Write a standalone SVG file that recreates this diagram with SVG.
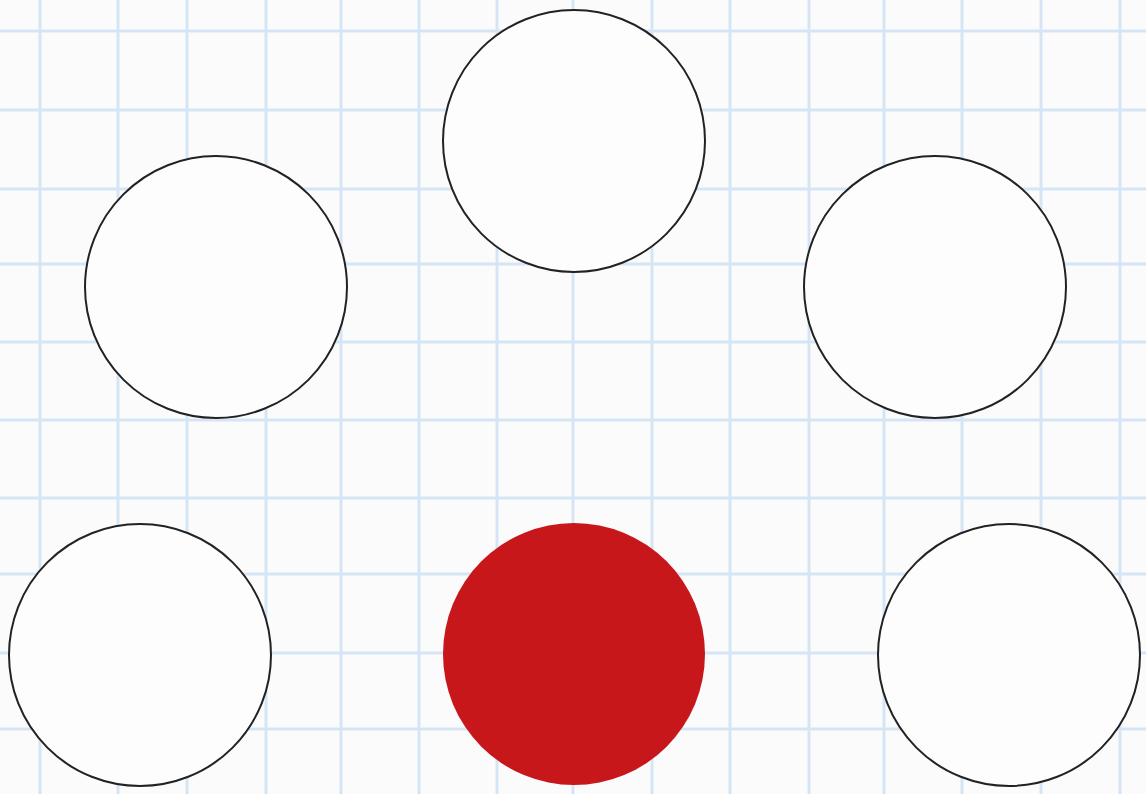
<svg xmlns="http://www.w3.org/2000/svg" width="1146" height="794" viewBox="0 0 1146 794">
<style>
.g{stroke:#d5e5f5;stroke-width:3;fill:none}
.c{fill:#fdfdfd;stroke:#222;stroke-width:2}
.r{fill:#c8171a}
</style>
<rect width="1146" height="794" fill="#fbfbfb"/>
<g id="grid">
<path class="g" d="M40 0V794M118 0V794M187 0V794M266 0V794M341 0V794M419 0V794M497 0V794M573 0V794M652 0V794M730 0V794M809 0V794M884 0V794M962 0V794M1041 0V794M1120 0V794"/>
<path class="g" d="M0 31H1146M0 110H1146M0 189H1146M0 264H1146M0 342H1146M0 420H1146M0 498H1146M0 574H1146M0 653H1146M0 729H1146"/>
</g>
<g id="connectors"></g>
<g id="n1"><circle class="c" cx="574" cy="141" r="131"/></g>
<g id="n2"><circle class="c" cx="216" cy="287" r="131"/></g>
<g id="n3"><circle class="c" cx="935" cy="287" r="131"/></g>
<g id="n4"><circle class="c" cx="140" cy="655" r="131"/></g>
<g id="n5"><circle class="r" cx="574" cy="654" r="131"/></g>
<g id="n6"><circle class="c" cx="1009" cy="655" r="131"/></g>
</svg>
